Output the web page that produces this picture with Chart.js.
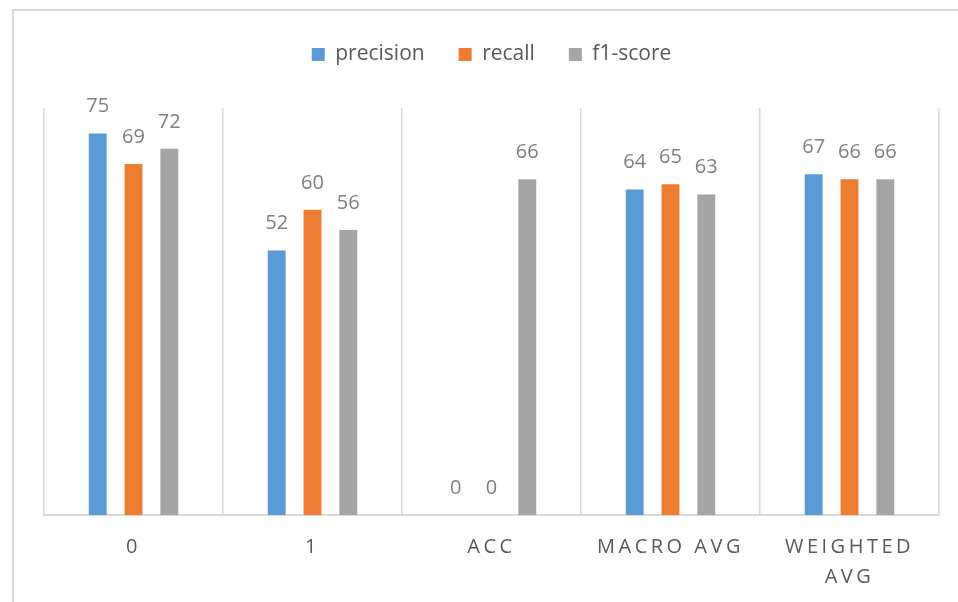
<!DOCTYPE html>
<html>
<head>
<meta charset="utf-8">
<script src="https://cdn.jsdelivr.net/npm/chart.js@4/dist/chart.umd.min.js"></script>
<style>
  html, body { margin: 0; padding: 0; background: #fff; overflow: hidden; }
  #wrap { position: relative; width: 958px; height: 602px; }
</style>
</head>
<body>
<div id="wrap"><canvas id="chart_bar"></canvas></div>
<script>
'use strict';

/* =========== Data ================= */
var categories = ['0', '1', 'ACC', 'MACRO AVG', 'WEIGHTED AVG'];
var precision = [75, 52, 0, 64, 67];
var recall = [69, 60, 0, 65, 66];
var f1Score = [72, 56, 66, 63, 66];
var yTicks = [0, 80];
/* ------------------------------------------------ */

var gridColor = '#d9d9d9';
var textColor = '#595959';
var fontFamily = '"Open Sans", "DejaVu Sans", sans-serif';

/* =========== Plugins (frame, legend gap, spaced ticks, value labels) ================= */
var frame = {
	id: 'frame',
	beforeDraw: function (chart) {
		var ctx = chart.ctx;
		ctx.save();
		ctx.strokeStyle = gridColor;
		ctx.lineWidth = 2;
		ctx.beginPath();
		ctx.moveTo(13, 602);
		ctx.lineTo(13, 10);
		ctx.lineTo(958, 10);
		ctx.stroke();
		ctx.restore();
	}
};

var legendGap = {
	id: 'legendGap',
	beforeInit: function (chart) {
		var fit = chart.legend.fit;
		chart.legend.fit = function () {
			fit.bind(chart.legend)();
			this.height += 33;
		};
	}
};

var spacedTicks = {
	id: 'spacedTicks',
	beforeDraw: function (chart) {
		var x = chart.scales.x;
		if (x._spaced) return;
		var orig = x.drawLabels.bind(x);
		x.drawLabels = function (area) {
			chart.ctx.save();
			chart.ctx.letterSpacing = '3.5px';
			orig(area);
			chart.ctx.restore();
		};
		x._spaced = true;
	}
};

var valueLabels = {
	id: 'valueLabels',
	afterDatasetsDraw: function (chart) {
		var ctx = chart.ctx;
		ctx.save();
		ctx.font = '20px ' + fontFamily;
		ctx.fillStyle = '#7f7f7f';
		ctx.textAlign = 'center';
		ctx.textBaseline = 'alphabetic';
		chart.data.datasets.forEach(function (ds, i) {
			chart.getDatasetMeta(i).data.forEach(function (bar, j) {
				ctx.fillText(String(ds.data[j]), bar.x, bar.y - 21);
			});
		});
		ctx.restore();
	}
};
/* ------------------------------------------------ */

/* =========== Clustered bars ================= */
var ctx = document.getElementById('chart_bar');
var chart_bar = new Chart(ctx, {
	type: 'bar',
	data: {
		labels: categories,
		datasets: [{
			label: 'precision',
			data: precision,
			backgroundColor: '#5b9bd5'
		}, {
			label: 'recall',
			data: recall,
			backgroundColor: '#ed7d31'
		}, {
			label: 'f1-score',
			data: f1Score,
			backgroundColor: '#a5a5a5'
		}]
	},
	options: {
		responsive: true,
		maintainAspectRatio: false,
		animation: false,
		datasets: {
			bar: {
				categoryPercentage: 0.6,
				barPercentage: 0.5
			}
		},
		layout: {
			padding: { top: 10, left: 44, right: 19, bottom: 0 }
		},
		plugins: {
			legend: {
				position: 'top',
				labels: {
					boxWidth: 13,
					boxHeight: 13,
					padding: 34,
					color: textColor,
					font: { family: fontFamily, size: 21 }
				}
			},
			tooltip: { enabled: false }
		},
		scales: {
			x: {
				afterFit: function (scale) {
					scale.height = 87;
				},
				grid: {
					color: gridColor,
					lineWidth: 1.5,
					offset: true,
					drawTicks: false
				},
				border: { color: gridColor, width: 2 },
				ticks: {
					color: textColor,
					padding: 17,
					maxRotation: 0,
					autoSkip: false,
					font: { family: fontFamily, size: 20, lineHeight: 1.5 },
					callback: function (value) {
						var label = this.getLabelForValue(value);
						return label.length > 10 ? label.split(' ') : label;
					}
				}
			},
			y: {
				display: false,
				min: yTicks[0],
				max: yTicks[1]
			}
		}
	},
	plugins: [frame, legendGap, spacedTicks, valueLabels]
});
/* ------------------------------------------------ */
</script>
</body>
</html>
